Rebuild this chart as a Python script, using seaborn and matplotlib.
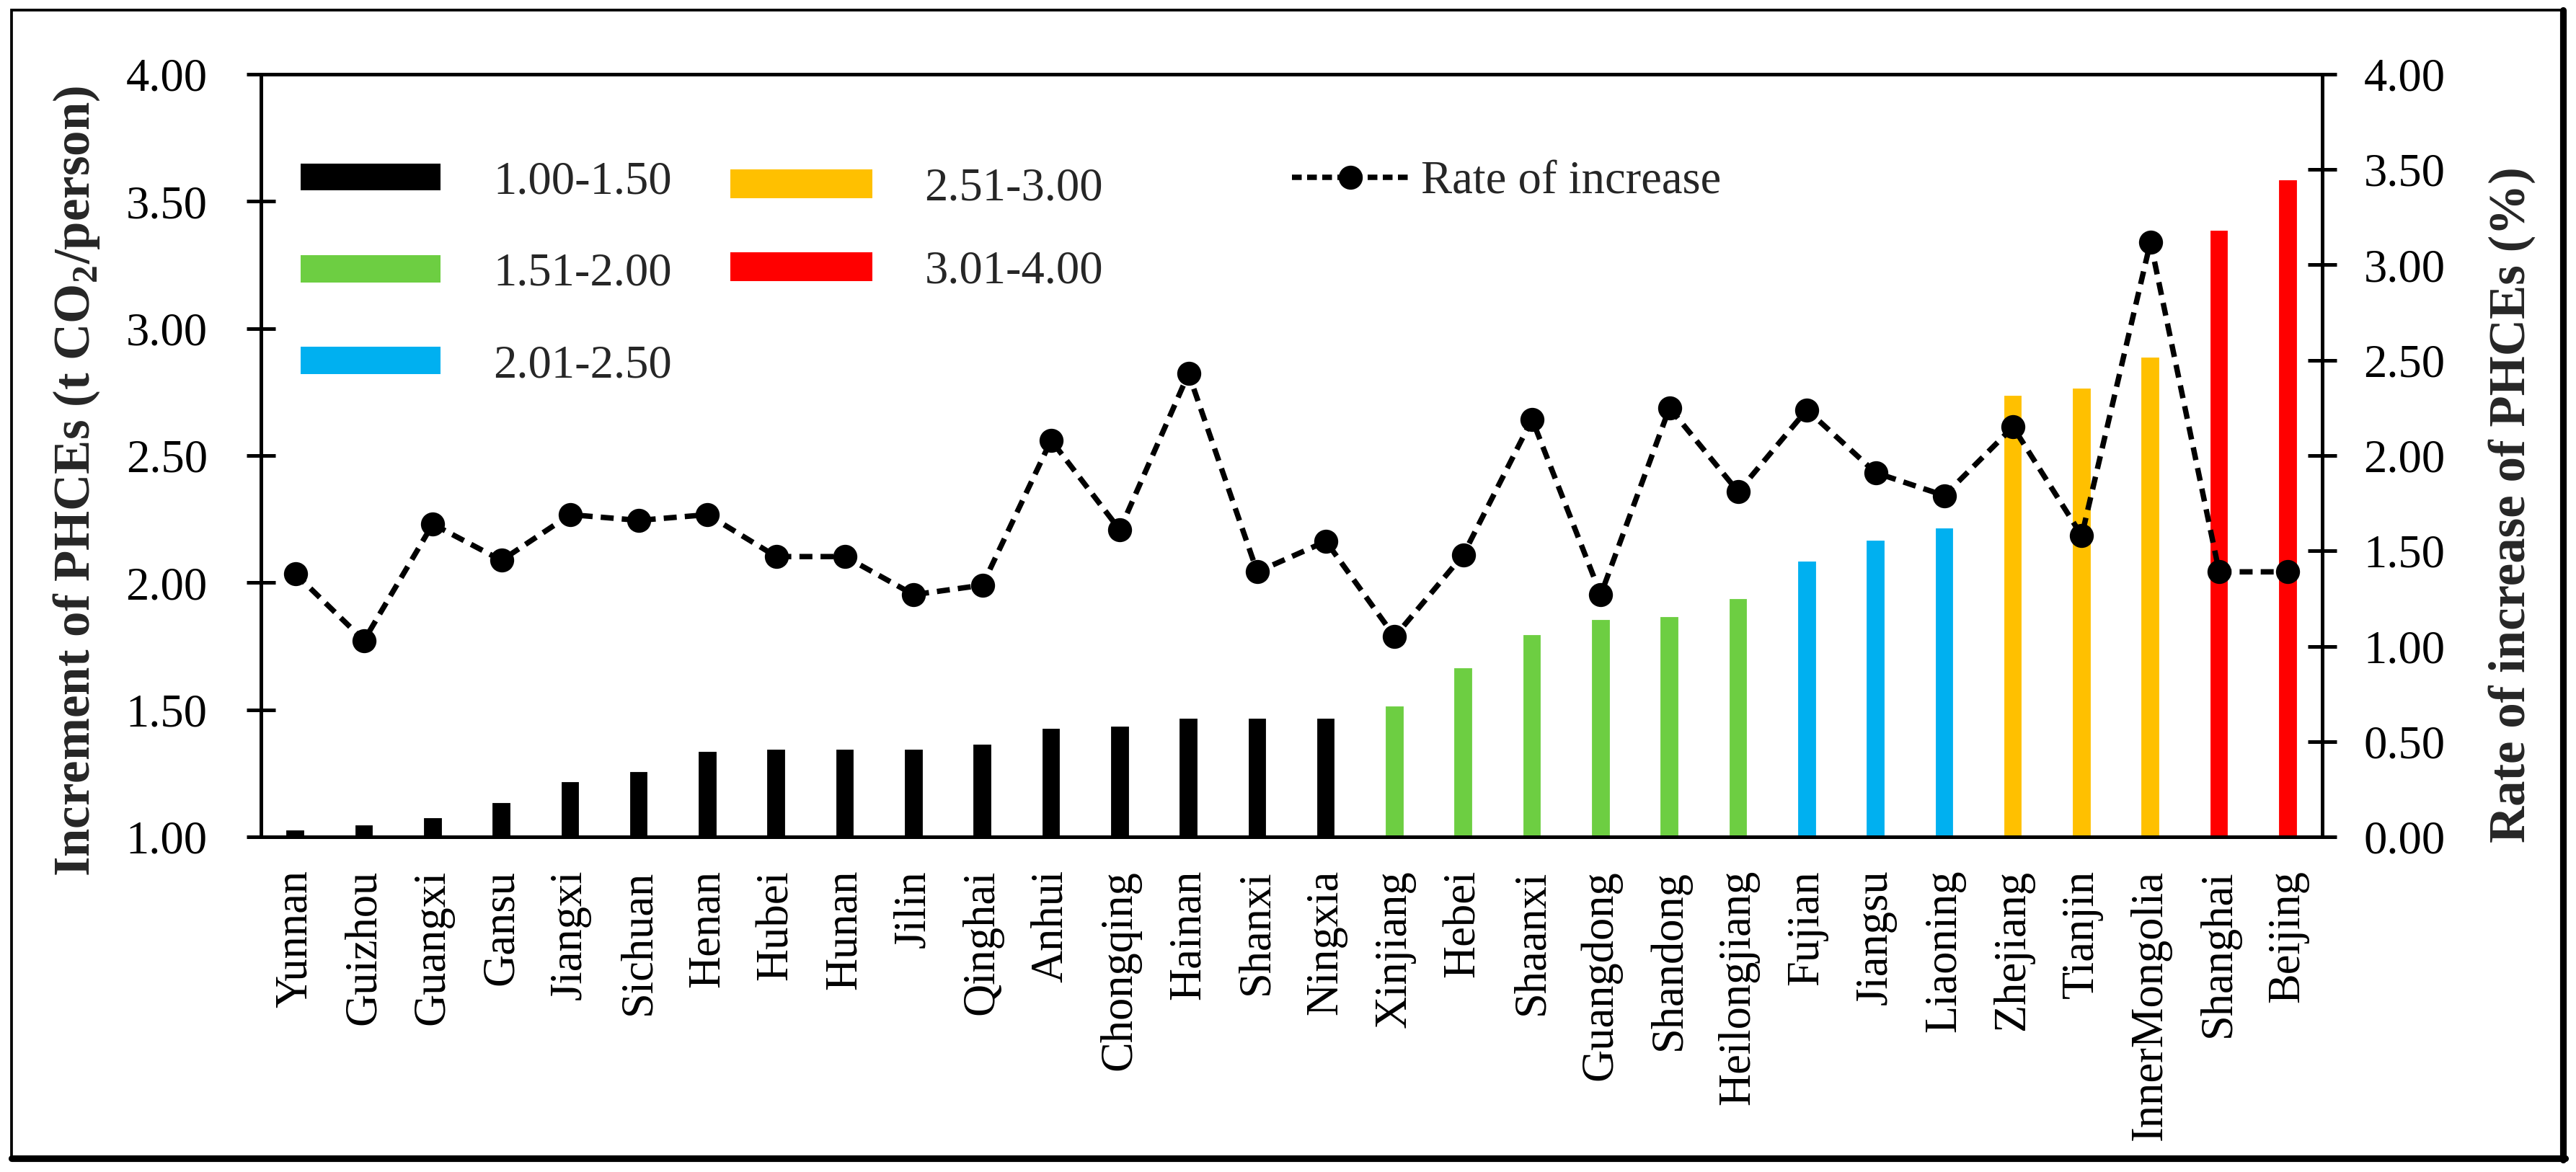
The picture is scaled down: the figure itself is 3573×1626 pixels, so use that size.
import numpy as np
import pandas as pd
import matplotlib
matplotlib.use("Agg")
import matplotlib.pyplot as plt
import seaborn as sns
from matplotlib.patches import Patch, Rectangle
from matplotlib.lines import Line2D

# ---------------- data ----------------
provinces = ["Yunnan", "Guizhou", "Guangxi", "Gansu", "Jiangxi", "Sichuan", "Henan",
             "Hubei", "Hunan", "Jilin", "Qinghai", "Anhui", "Chongqing", "Hainan",
             "Shanxi", "Ningxia", "Xinjiang", "Hebei", "Shaanxi", "Guangdong",
             "Shandong", "Heilongjiang", "Fujian", "Jiangsu", "Liaoning", "Zhejiang",
             "Tianjin", "InnerMongolia", "Shanghai", "Beijing"]
increment = [1.03, 1.05, 1.08, 1.14, 1.22, 1.26, 1.34, 1.35, 1.35, 1.35, 1.37, 1.43,
             1.44, 1.47, 1.47, 1.47, 1.52, 1.67, 1.80, 1.86, 1.87, 1.94, 2.09, 2.17,
             2.22, 2.74, 2.77, 2.89, 3.39, 3.59]
rate = [1.38, 1.03, 1.64, 1.45, 1.69, 1.66, 1.69, 1.47, 1.47, 1.27, 1.32, 2.08,
        1.61, 2.43, 1.39, 1.55, 1.05, 1.48, 2.19, 1.27, 2.25, 1.81, 2.24, 1.91,
        1.79, 2.15, 1.58, 3.12, 1.39, 1.39]
group_labels = ["1.00-1.50", "1.51-2.00", "2.01-2.50", "2.51-3.00", "3.01-4.00"]
group_bins = [1.00, 1.50, 2.00, 2.50, 3.00, 4.00]
group_colors = ["#000000", "#6DCE42", "#00B0F0", "#FFC000", "#FF0000"]
left_ticks = [1.00, 1.50, 2.00, 2.50, 3.00, 3.50, 4.00]
right_ticks = [0.00, 0.50, 1.00, 1.50, 2.00, 2.50, 3.00, 3.50, 4.00]
line_label = "Rate of increase"
left_label = r"Increment of PHCEs (t CO$_\mathbf{2}$/person)"
right_label = "Rate of increase of PHCEs (%)"

# ---------------- style ----------------
sns.set_theme(style="white")
plt.rcParams["font.family"] = ["Liberation Serif", "DejaVu Serif"]
plt.rcParams["mathtext.fontset"] = "custom"
plt.rcParams["mathtext.rm"] = "Liberation Serif"
plt.rcParams["mathtext.bf"] = "Liberation Serif:bold"

W, H, DPI = 3573, 1626, 300
fig = plt.figure(figsize=(W / DPI, H / DPI), dpi=DPI)
fig.patch.set_facecolor("white")


def fx(px):
    return px / W


def fy(py):
    return 1 - py / H


ax = fig.add_axes([fx(362), fy(1161), fx(3221) - fx(362), fy(103) - fy(1161)])

df = pd.DataFrame({"province": provinces, "increment": increment})
df["group"] = pd.cut(df["increment"], bins=group_bins, labels=group_labels,
                     include_lowest=True).astype(str)

sns.barplot(data=df, x="province", y="increment", hue="group", order=provinces,
            hue_order=group_labels, palette=dict(zip(group_labels, group_colors)),
            dodge=False, width=0.3, saturation=1, legend=False, ax=ax)

ax2 = ax.twinx()
sns.lineplot(x=np.arange(len(provinces)), y=rate, ax=ax2, color="black",
             marker="o", markersize=8, linewidth=1.8, markeredgewidth=0, sort=False)
ax2.lines[0].set_linestyle((0, (2.4, 1.5)))

ax.set_xlim(-0.5, len(provinces) - 0.5)
ax.set_ylim(1, 4)
ax2.set_ylim(0, 4)

ax.set_yticks(left_ticks)
ax.set_yticklabels([f"{t:.2f}" for t in left_ticks])
ax2.set_yticks(right_ticks)
ax2.set_yticklabels([f"{t:.2f}" for t in right_ticks])

ax.tick_params(axis="y", direction="inout", length=9.6, width=1.2, color="black",
               labelsize=15.5, pad=13, left=True, labelcolor="black")
ax2.tick_params(axis="y", direction="inout", length=9.6, width=1.2, color="black",
                labelsize=15.5, pad=9, right=True, labelcolor="black")
ax.tick_params(axis="x", length=0, labelsize=15, pad=11, labelrotation=90,
               labelcolor="black")
ax.set_xlabel("")
ax.set_ylabel("")
ax2.set_ylabel("")

for s in ax.spines.values():
    s.set_visible(True)
    s.set_color("black")
    s.set_linewidth(1.2)
for name, s in ax2.spines.items():
    s.set_visible(name == "right")
    s.set_color("black")
    s.set_linewidth(1.2)

fig.text(fx(106), fy(667), left_label, rotation=90, ha="center", va="center",
         fontsize=17, fontweight="bold")
fig.text(fx(3484), fy(700), right_label, rotation=90, ha="center", va="center",
         fontsize=17, fontweight="bold")

# ---------------- legends ----------------
common = dict(loc="upper left", bbox_transform=fig.transFigure, frameon=False,
              fontsize=15.5, borderpad=0, borderaxespad=0)
h1 = [Patch(facecolor=c, edgecolor="none") for c in group_colors[:3]]
leg1 = ax2.legend(h1, group_labels[:3], bbox_to_anchor=(fx(417), fy(223)),
                  handlelength=3.0, handleheight=0.52, handletextpad=1.14,
                  labelspacing=1.05, **common)
ax2.add_artist(leg1)
h2 = [Patch(facecolor=c, edgecolor="none") for c in group_colors[3:]]
leg2 = ax2.legend(h2, group_labels[3:], bbox_to_anchor=(fx(1013), fy(232)),
                  handlelength=3.05, handleheight=0.58, handletextpad=1.12,
                  labelspacing=0.86, **common)
ax2.add_artist(leg2)
h3 = [Line2D([], [], color="black", marker="o", markersize=8, linewidth=1.8,
             markeredgewidth=0, linestyle=(0, (1.8, 1.0)))]
leg3 = ax2.legend(h3, [line_label], bbox_to_anchor=(fx(1792), fy(223)),
                  handlelength=2.5, handletextpad=0.27, **common)

# ---------------- frame ----------------
fig.add_artist(Rectangle((fx(16), fy(1606)), fx(3554) - fx(16), fy(14) - fy(1606),
                         transform=fig.transFigure, fill=False, edgecolor="black",
                         linewidth=0.9))
fig.add_artist(Line2D([fx(16), fx(3558)], [fy(1607), fy(1607)],
                      transform=fig.transFigure, color="black", linewidth=2.2))
fig.add_artist(Line2D([fx(3555), fx(3555)], [fy(14), fy(1609)],
                      transform=fig.transFigure, color="black", linewidth=2.2))

fig.savefig("out.png", dpi=DPI)
